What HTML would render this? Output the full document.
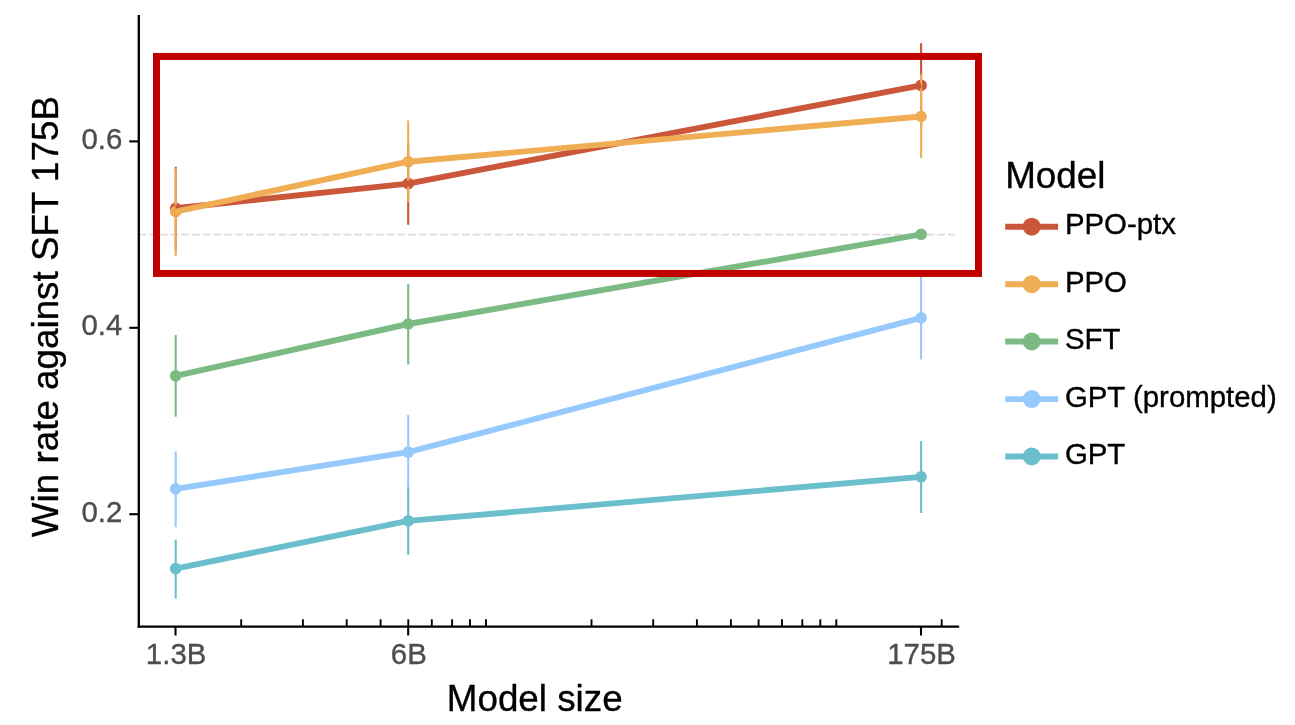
<!DOCTYPE html>
<html><head><meta charset="utf-8"><title>Win rate chart</title>
<style>
html,body{margin:0;padding:0;background:#fff;}
body{width:1295px;height:725px;overflow:hidden;}
svg{display:block;font-family:"Liberation Sans",sans-serif;will-change:transform;}
</style></head><body>
<svg width="1295" height="725" viewBox="0 0 1295 725">
<rect width="1295" height="725" fill="#ffffff"/>
<line x1="138" y1="234.6" x2="955" y2="234.6" stroke="#dcdcdc" stroke-width="1.6" stroke-dasharray="8 2.8"/>
<circle cx="175.7" cy="208.3" r="5.8" fill="#CB573B"/>
<circle cx="408.2" cy="183.6" r="5.8" fill="#CB573B"/>
<circle cx="921.1" cy="85.4" r="5.8" fill="#CB573B"/>
<circle cx="175.7" cy="211.7" r="5.8" fill="#F0AE54"/>
<circle cx="408.2" cy="161.7" r="5.8" fill="#F0AE54"/>
<circle cx="921.1" cy="116.5" r="5.8" fill="#F0AE54"/>
<circle cx="175.7" cy="375.9" r="5.8" fill="#7BBA83"/>
<circle cx="408.2" cy="324" r="5.8" fill="#7BBA83"/>
<circle cx="921.1" cy="234.4" r="5.8" fill="#7BBA83"/>
<circle cx="175.7" cy="488.9" r="5.8" fill="#96CAFD"/>
<circle cx="408.2" cy="452.1" r="5.8" fill="#96CAFD"/>
<circle cx="921.1" cy="317.8" r="5.8" fill="#96CAFD"/>
<circle cx="175.7" cy="568.6" r="5.8" fill="#6BBECC"/>
<circle cx="408.2" cy="520.9" r="5.8" fill="#6BBECC"/>
<circle cx="921.1" cy="476.9" r="5.8" fill="#6BBECC"/>
<line x1="175.7" y1="166.8" x2="175.7" y2="249.8" stroke="#CB573B" stroke-width="2.1"/>
<line x1="408.2" y1="142.4" x2="408.2" y2="224.8" stroke="#CB573B" stroke-width="2.1"/>
<line x1="921.1" y1="43.2" x2="921.1" y2="128" stroke="#CB573B" stroke-width="2.1"/>
<line x1="175.7" y1="168.6" x2="175.7" y2="256" stroke="#F0AE54" stroke-width="2.1"/>
<line x1="408.2" y1="120.5" x2="408.2" y2="202.2" stroke="#F0AE54" stroke-width="2.1"/>
<line x1="921.1" y1="74.3" x2="921.1" y2="157.9" stroke="#F0AE54" stroke-width="2.1"/>
<line x1="175.7" y1="335.1" x2="175.7" y2="416.7" stroke="#7BBA83" stroke-width="2.1"/>
<line x1="408.2" y1="283.9" x2="408.2" y2="364.5" stroke="#7BBA83" stroke-width="2.1"/>
<line x1="175.7" y1="451.5" x2="175.7" y2="527.3" stroke="#96CAFD" stroke-width="2.1"/>
<line x1="408.2" y1="414.9" x2="408.2" y2="489.3" stroke="#96CAFD" stroke-width="2.1"/>
<line x1="921.1" y1="276" x2="921.1" y2="359.5" stroke="#96CAFD" stroke-width="2.1"/>
<line x1="175.7" y1="539.6" x2="175.7" y2="598.6" stroke="#6BBECC" stroke-width="2.1"/>
<line x1="408.2" y1="487.2" x2="408.2" y2="554.8" stroke="#6BBECC" stroke-width="2.1"/>
<line x1="921.1" y1="441.1" x2="921.1" y2="513" stroke="#6BBECC" stroke-width="2.1"/>
<polyline points="175.7,208.3 408.2,183.6 921.1,85.4" fill="none" stroke="#CB573B" stroke-width="5.9" stroke-linejoin="round" stroke-linecap="butt"/>
<polyline points="175.7,211.7 408.2,161.7 921.1,116.5" fill="none" stroke="#F0AE54" stroke-width="5.9" stroke-linejoin="round" stroke-linecap="butt"/>
<polyline points="175.7,375.9 408.2,324 921.1,234.4" fill="none" stroke="#7BBA83" stroke-width="5.9" stroke-linejoin="round" stroke-linecap="butt"/>
<polyline points="175.7,488.9 408.2,452.1 921.1,317.8" fill="none" stroke="#96CAFD" stroke-width="5.9" stroke-linejoin="round" stroke-linecap="butt"/>
<polyline points="175.7,568.6 408.2,520.9 921.1,476.9" fill="none" stroke="#6BBECC" stroke-width="5.9" stroke-linejoin="round" stroke-linecap="butt"/>
<line x1="138.8" y1="14.9" x2="138.8" y2="627.75" stroke="#000" stroke-width="2.3"/>
<line x1="137.65" y1="626.6" x2="959.2" y2="626.6" stroke="#000" stroke-width="2.3"/>
<line x1="129.3" y1="141.4" x2="138.8" y2="141.4" stroke="#000" stroke-width="2.1"/>
<text transform="translate(122.3,148.7) scale(1,1.02)" font-size="29.4" fill="#4d4d4d" stroke="#4d4d4d" stroke-width="0.35" text-anchor="end">0.6</text>
<line x1="129.3" y1="327.8" x2="138.8" y2="327.8" stroke="#000" stroke-width="2.1"/>
<text transform="translate(122.3,335.1) scale(1,1.02)" font-size="29.4" fill="#4d4d4d" stroke="#4d4d4d" stroke-width="0.35" text-anchor="end">0.4</text>
<line x1="129.3" y1="514.2" x2="138.8" y2="514.2" stroke="#000" stroke-width="2.1"/>
<text transform="translate(122.3,521.5) scale(1,1.02)" font-size="29.4" fill="#4d4d4d" stroke="#4d4d4d" stroke-width="0.35" text-anchor="end">0.2</text>
<line x1="175.5" y1="626.6" x2="175.5" y2="635.5" stroke="#000" stroke-width="2.1"/>
<text transform="translate(176.1,664.2) scale(1,1.02)" font-size="29.4" fill="#4d4d4d" stroke="#4d4d4d" stroke-width="0.35" text-anchor="middle">1.3B</text>
<line x1="408.2" y1="626.6" x2="408.2" y2="635.5" stroke="#000" stroke-width="2.1"/>
<text transform="translate(408.8,664.2) scale(1,1.02)" font-size="29.4" fill="#4d4d4d" stroke="#4d4d4d" stroke-width="0.35" text-anchor="middle">6B</text>
<line x1="921.0" y1="626.6" x2="921.0" y2="635.5" stroke="#000" stroke-width="2.1"/>
<text transform="translate(921.6,664.2) scale(1,1.02)" font-size="29.4" fill="#4d4d4d" stroke="#4d4d4d" stroke-width="0.35" text-anchor="middle">175B</text>
<line x1="241.2" y1="619.3" x2="241.2" y2="626.6" stroke="#000" stroke-width="1.9"/>
<line x1="302.9" y1="619.3" x2="302.9" y2="626.6" stroke="#000" stroke-width="1.9"/>
<line x1="346.7" y1="619.3" x2="346.7" y2="626.6" stroke="#000" stroke-width="1.9"/>
<line x1="380.6" y1="619.3" x2="380.6" y2="626.6" stroke="#000" stroke-width="1.9"/>
<line x1="408.3" y1="619.3" x2="408.3" y2="626.6" stroke="#000" stroke-width="1.9"/>
<line x1="431.8" y1="619.3" x2="431.8" y2="626.6" stroke="#000" stroke-width="1.9"/>
<line x1="452.1" y1="619.3" x2="452.1" y2="626.6" stroke="#000" stroke-width="1.9"/>
<line x1="470.0" y1="619.3" x2="470.0" y2="626.6" stroke="#000" stroke-width="1.9"/>
<line x1="486.0" y1="619.3" x2="486.0" y2="626.6" stroke="#000" stroke-width="1.9"/>
<line x1="591.5" y1="619.3" x2="591.5" y2="626.6" stroke="#000" stroke-width="1.9"/>
<line x1="653.2" y1="619.3" x2="653.2" y2="626.6" stroke="#000" stroke-width="1.9"/>
<line x1="696.9" y1="619.3" x2="696.9" y2="626.6" stroke="#000" stroke-width="1.9"/>
<line x1="730.9" y1="619.3" x2="730.9" y2="626.6" stroke="#000" stroke-width="1.9"/>
<line x1="758.6" y1="619.3" x2="758.6" y2="626.6" stroke="#000" stroke-width="1.9"/>
<line x1="782.0" y1="619.3" x2="782.0" y2="626.6" stroke="#000" stroke-width="1.9"/>
<line x1="802.3" y1="619.3" x2="802.3" y2="626.6" stroke="#000" stroke-width="1.9"/>
<line x1="820.3" y1="619.3" x2="820.3" y2="626.6" stroke="#000" stroke-width="1.9"/>
<line x1="836.3" y1="619.3" x2="836.3" y2="626.6" stroke="#000" stroke-width="1.9"/>
<line x1="941.7" y1="619.3" x2="941.7" y2="626.6" stroke="#000" stroke-width="1.9"/>
<rect x="156.5" y="56.45" width="822" height="217" fill="none" stroke="#C00000" stroke-width="7"/>
<text transform="translate(534.7,711.2) scale(1,1.0)" font-size="36.8" fill="#000" stroke="#000" stroke-width="0.35" text-anchor="middle">Model size</text>
<text transform="translate(58.1,316.6) rotate(-90) scale(1,1.0)" font-size="36.8" fill="#000" stroke="#000" stroke-width="0.35" text-anchor="middle">Win rate against SFT 175B</text>
<text transform="translate(1005.2,187.5) scale(1,1.0)" font-size="36.8" fill="#000" stroke="#000" stroke-width="0.35" text-anchor="start">Model</text>
<line x1="1005.2" y1="226.7" x2="1058.1" y2="226.7" stroke="#CB573B" stroke-width="5.9"/>
<circle cx="1031.7" cy="226.7" r="9.0" fill="#CB573B"/>
<text transform="translate(1064.9,234.3) scale(1,1.02)" font-size="29.4" fill="#000" stroke="#000" stroke-width="0.35" text-anchor="start">PPO-ptx</text>
<line x1="1005.2" y1="284.2" x2="1058.1" y2="284.2" stroke="#F0AE54" stroke-width="5.9"/>
<circle cx="1031.7" cy="284.2" r="9.0" fill="#F0AE54"/>
<text transform="translate(1064.9,291.8) scale(1,1.02)" font-size="29.4" fill="#000" stroke="#000" stroke-width="0.35" text-anchor="start">PPO</text>
<line x1="1005.2" y1="341.5" x2="1058.1" y2="341.5" stroke="#7BBA83" stroke-width="5.9"/>
<circle cx="1031.7" cy="341.5" r="9.0" fill="#7BBA83"/>
<text transform="translate(1064.9,349.1) scale(1,1.02)" font-size="29.4" fill="#000" stroke="#000" stroke-width="0.35" text-anchor="start">SFT</text>
<line x1="1005.2" y1="399.1" x2="1058.1" y2="399.1" stroke="#96CAFD" stroke-width="5.9"/>
<circle cx="1031.7" cy="399.1" r="9.0" fill="#96CAFD"/>
<text transform="translate(1064.9,406.7) scale(1,1.02)" font-size="29.4" fill="#000" stroke="#000" stroke-width="0.35" text-anchor="start">GPT (prompted)</text>
<line x1="1005.2" y1="456.5" x2="1058.1" y2="456.5" stroke="#6BBECC" stroke-width="5.9"/>
<circle cx="1031.7" cy="456.5" r="9.0" fill="#6BBECC"/>
<text transform="translate(1064.9,464.1) scale(1,1.02)" font-size="29.4" fill="#000" stroke="#000" stroke-width="0.35" text-anchor="start">GPT</text>
</svg>
</body></html>
